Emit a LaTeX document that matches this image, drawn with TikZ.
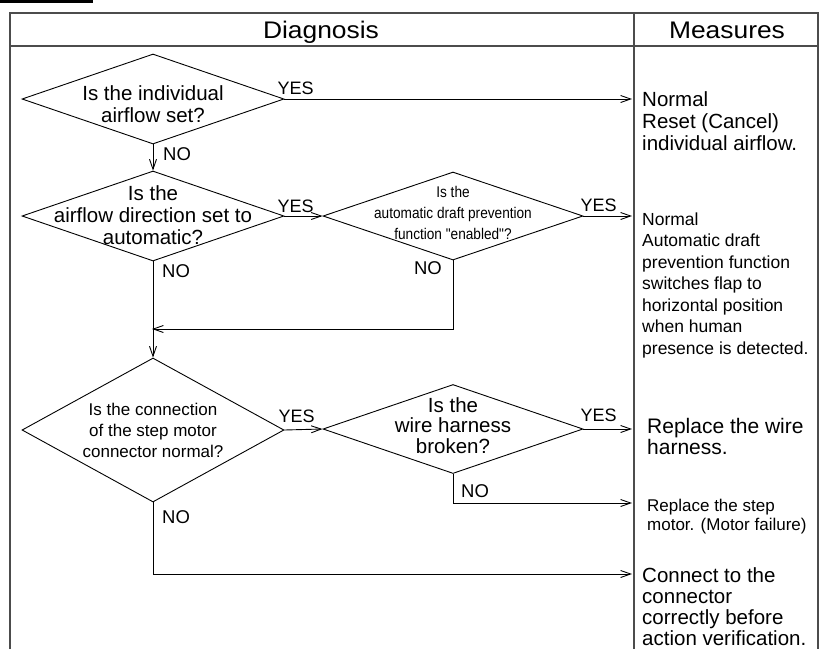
\documentclass[tikz,border=0pt]{standalone}
\usepackage{fontspec}
\setmainfont{Liberation Sans}
\newfontfamily\condfont[FakeStretch=0.88]{Liberation Sans}
\newfontfamily\headfont[FakeStretch=1.1]{Liberation Sans}
\usetikzlibrary{shapes.geometric,arrows.meta,calc}
\tikzset{>={Straight Barb[length=10pt,width=7pt]}}
\tikzset{
  frame/.style={draw=black!70, line width=1.2pt},
  decision/.style={draw, diamond, inner sep=0pt, line width=0.9pt},
  qtext/.style={anchor=base, align=center, inner sep=0pt},
  mtext/.style={anchor=base west, align=left, inner sep=0pt},
  yeslbl/.style={anchor=base west, inner sep=0pt, font=\fontsize{18}{18}\selectfont},
  nolbl/.style={anchor=base west, inner sep=0pt, font=\fontsize{18.5}{18.5}\selectfont},
  head/.style={anchor=base, inner sep=0pt, font=\headfont\fontsize{24}{24}\selectfont},
  flow/.style={->, line width=0.9pt},
}

\begin{document}
\begin{tikzpicture}[x=1pt,y=-1pt]
  \useasboundingbox (0,0) rectangle (820,649);
  % tab edge and table frame
  \draw[line width=3pt] (-10,-20) rectangle (91.5,1.7);
  \draw[frame] (10,649) -- (10,13) -- (818,13) -- (818,649);
  \draw[frame] (10,46) -- (818,46);
  \draw[frame] (634,13) -- (634,649);
  \node[head] (hdiag) at (321,38) {Diagnosis};
  \node[head] (hmeas) at (727,38) {Measures};

  % questions
  \node[decision, minimum width=262pt, minimum height=90pt] (q1) at (153,99) {};
  \node[decision, minimum width=262pt, minimum height=90pt] (q2) at (153,216) {};
  \node[decision, minimum width=260pt, minimum height=88pt] (q3) at (453,216) {};
  \node[decision, minimum width=262pt, minimum height=144pt] (q4) at (153,430) {};
  \node[decision, minimum width=260pt, minimum height=89pt] (q5) at (453,429) {};

  % texts sit on their last baseline
  \node[qtext, font=\fontsize{20.5}{21.5}\selectfont] (q1txt) at ([yshift=-23pt]q1.center)
    {Is the individual\\airflow set?};
  \node[qtext, font=\fontsize{20.5}{22}\selectfont] (q2txt) at ([yshift=-28pt]q2.center)
    {Is the\\airflow direction set to\\automatic?};
  \node[qtext, font=\condfont\fontsize{15.5}{21}\selectfont] (q3txt) at ([yshift=-23pt]q3.center)
    {Is the\\automatic draft prevention\\function "enabled"?};
  \node[qtext, font=\fontsize{17}{21}\selectfont] (q4txt) at ([yshift=-27pt]q4.center)
    {Is the connection\\of the step motor\\connector normal?};
  \node[qtext, font=\fontsize{20.5}{20.5}\selectfont] (q5txt) at ([yshift=-24pt]q5.center)
    {Is the\\wire harness\\broken?};

  % measures
  \node[mtext, font=\fontsize{20.5}{22}\selectfont] (m1) at (642,150)
    {Normal\\Reset (Cancel)\\individual airflow.};
  \node[mtext, font=\fontsize{17.5}{21.5}\selectfont] (m2) at (642,354)
    {Normal\\Automatic draft\\prevention function\\switches flap to\\horizontal position\\when human\\presence is detected.};
  \node[mtext, font=\fontsize{21}{21}\selectfont] (m3) at (647,454)
    {Replace the wire\\harness.};
  \node[mtext, font=\fontsize{17}{19}\selectfont] (m4) at (647,530)
    {Replace the step\\motor. (Motor failure)};
  \node[mtext, font=\fontsize{20.5}{21}\selectfont] (m5) at (642,645)
    {Connect to the\\connector\\correctly before\\action verification.};

  % arrow ends
  \coordinate (mcol) at (632,0);
  \coordinate (join) at (153,329);
  \coordinate (r4) at (632,503);
  \coordinate (r5) at (632,574);

  % YES branches
  \draw[flow] (q1.east) -- (q1.east -| mcol);
  \draw[flow] (q2.east) -- (q3.west);
  \draw[flow] (q3.east) -- (q3.east -| mcol);
  \draw[flow] (q4.east) -- (q5.west);
  \draw[flow] (q5.east) -- (q5.east -| mcol);
  \node[yeslbl] (y1) at ($(q1.east)+(-7,-5)$) {YES};
  \node[yeslbl] (y2) at ($(q2.east)+(-7,-4)$) {YES};
  \node[yeslbl] (y3) at ($(q3.east)+(-3,-5)$) {YES};
  \node[yeslbl] (y4) at ($(q4.east)+(-6,-8)$) {YES};
  \node[yeslbl] (y5) at ($(q5.east)+(-3,-8)$) {YES};

  % NO branches
  \draw[flow] (q1.south) -- (q2.north);
  \draw[flow] (q2.south) -- (q4.north);
  \draw[flow, shorten >=-1pt] (q3.south) |- (join);
  \draw[flow] (q5.south) |- (r4);
  \draw[flow] (q4.south) |- (r5);
  \node[nolbl] (n1) at ($(q1.south)+(10,16)$) {NO};
  \node[nolbl] (n2) at ($(q2.south)+(9,16)$) {NO};
  \node[nolbl, anchor=base east] (n3) at ($(q3.south)+(-11,14)$) {NO};
  \node[nolbl] (n4) at ($(q4.south)+(9,21)$) {NO};
  \node[nolbl] (n5) at ($(q5.south)+(8,24)$) {NO};
\end{tikzpicture}
\end{document}
